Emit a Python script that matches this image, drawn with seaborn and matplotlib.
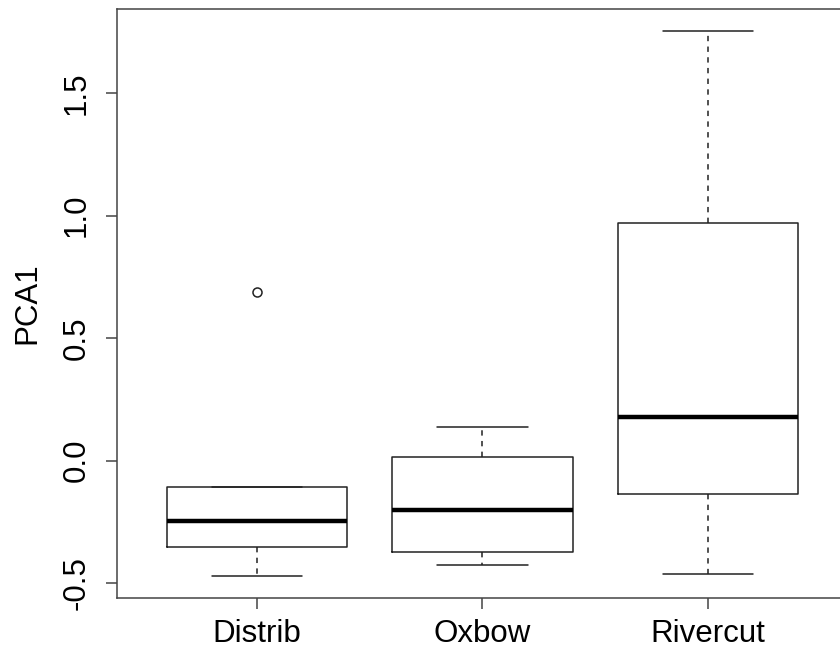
import matplotlib
matplotlib.use("Agg")
import matplotlib.pyplot as plt
import seaborn as sns
import pandas as pd

# Values (R-style boxplot)
groups = ["Distrib", "Oxbow", "Rivercut"]
whisker_lo = [-0.471, -0.426, -0.463]
q1 = [-0.352, -0.373, -0.135]
median = [-0.246, -0.201, 0.180]
q3 = [-0.107, 0.014, 0.971]
whisker_hi = [-0.107, 0.139, 1.754]
outliers = [[0.689], [], []]
yticks = [-0.5, 0.0, 0.5, 1.0, 1.5]
ylabel = "PCA1"

# Build small samples whose linear-percentile stats reproduce the read values
rows = []
for g, lo, a, m, b, hi, out in zip(groups, whisker_lo, q1, median, q3, whisker_hi, outliers):
    tail = [hi] + out
    while len(tail) < 2:
        tail.append(hi)
    vals = [lo, a, a, m, m, m, b] + tail
    rows += [(g, v) for v in vals]
df = pd.DataFrame(rows, columns=["group", "PCA1"])

sns.set_theme(style="white")
plt.rcParams["font.family"] = ["Liberation Sans", "DejaVu Sans"]
plt.rcParams["text.color"] = "black"
plt.rcParams["axes.labelcolor"] = "black"
plt.rcParams["xtick.labelcolor"] = "black"
plt.rcParams["ytick.labelcolor"] = "black"

fig = plt.figure(figsize=(8.4, 6.5), dpi=100)
ax = fig.add_axes([117 / 840, 52 / 650, (848 - 117) / 840, (598 - 9) / 650])

lc = "#222222"
sns.boxplot(
    data=df, x="group", y="PCA1", order=groups, ax=ax,
    width=0.8, whis=1.5, fill=False, color=lc, linewidth=1.1,
    medianprops=dict(color="black", linewidth=3.2),
    whiskerprops=dict(color=lc, linestyle=(0, (3.5, 3.5)), linewidth=1.1),
    capprops=dict(color=lc, linewidth=1.1),
    flierprops=dict(marker="o", markersize=6.5, markerfacecolor="none",
                    markeredgecolor=lc, markeredgewidth=1.1),
)

ax.set_xlim(-0.62, 2.62)
ax.set_ylim(-0.560, 1.843)
ax.set_yticks(yticks)
ax.set_yticklabels([f"{t:.1f}" for t in yticks])
ax.set_xlabel("")
ax.set_ylabel(ylabel, fontsize=22.5, labelpad=14, color="black")

for s in ax.spines.values():
    s.set_visible(True)
    s.set_color("#444444")
    s.set_linewidth(1.1)

ax.tick_params(axis="both", which="major", direction="out", length=8,
               width=1.1, color="#444444", labelsize=22.5, labelcolor="black",
               left=True, bottom=True)
ax.tick_params(axis="x", pad=7)
ax.tick_params(axis="y", pad=10, labelrotation=90)
for lab in ax.get_yticklabels():
    lab.set_va("center")
    lab.set_ha("right")

fig.savefig("out.png", dpi=100, facecolor="white")
